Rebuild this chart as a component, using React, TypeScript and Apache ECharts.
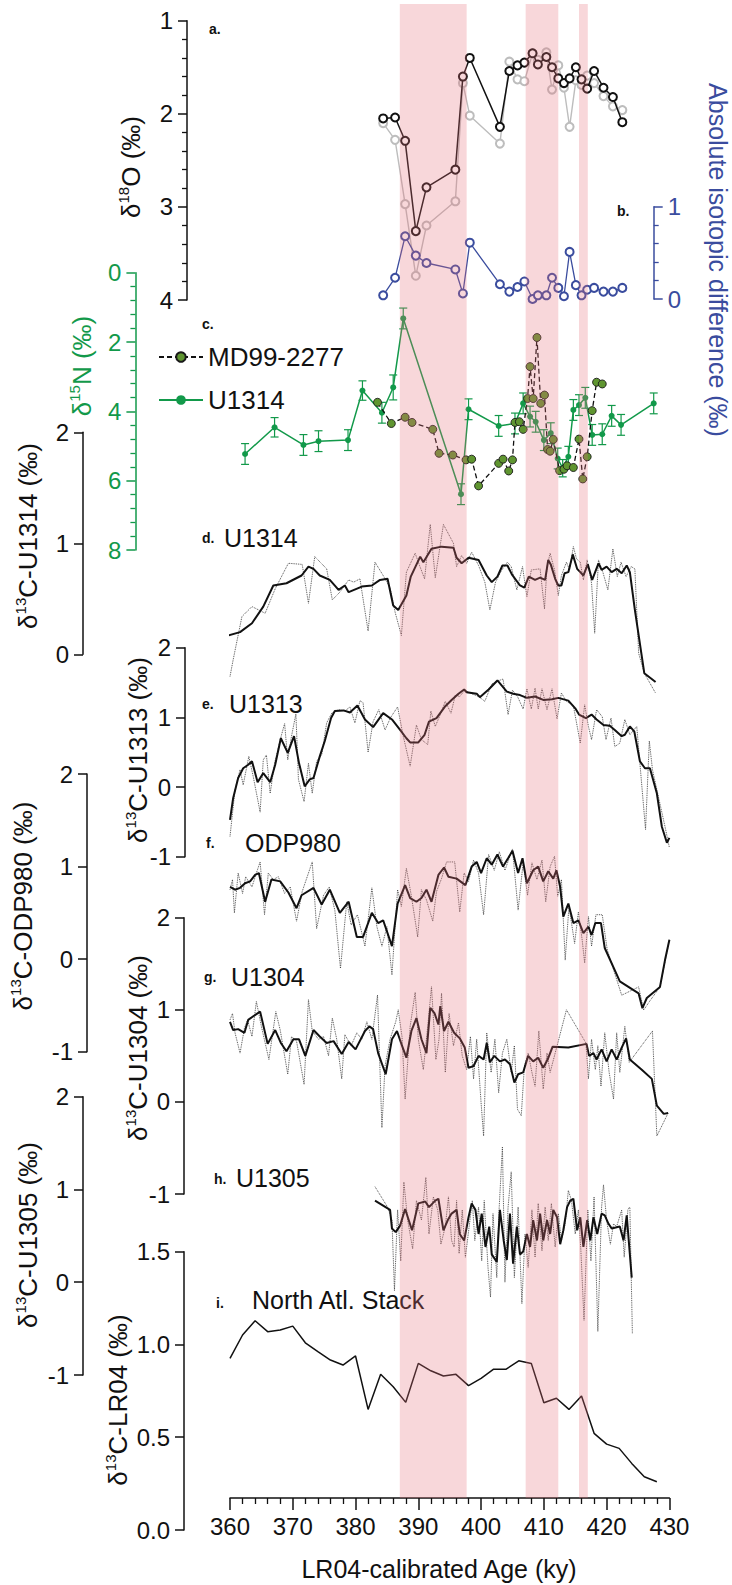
import React, { useEffect, useRef } from "react";
import * as echarts from "echarts";

const FONT = "'Liberation Sans', Arial, Helvetica, sans-serif";
const INK = "#111111";
const GREEN = "#12994a";
const BLUE = "#3a4c9e";
const OLIVE = "#5f9530";
const BAND_FILL = "rgba(230,112,123,0.28)";

// ---------- data ----------
const AGE_MIN = 360;
const AGE_MAX = 430;
const AGE_STEP = 10;

// event bands (ky)
const bands = [
  [387.05, 397.7],
  [407.1, 412.3],
  [415.6, 417.0],
];

// a. delta18O
const d18oAge = [384.4, 386.3, 387.9, 389.6, 391.3, 395.9, 397.1, 398.2, 403.0, 404.5, 405.8, 406.9, 408.2, 409.05, 410.4, 411.3, 412.3, 413.2, 414.1, 415.1, 416.0, 416.9, 418.0, 419.5, 421.0, 422.5];
const d18oBlack = [2.05, 2.04, 2.29, 3.26, 2.79, 2.6, 1.6, 1.4, 2.14, 1.54, 1.48, 1.45, 1.35, 1.47, 1.39, 1.5, 1.62, 1.67, 1.62, 1.5, 1.63, 1.73, 1.54, 1.72, 1.82, 2.09];
const d18oGrey = [2.1, 2.28, 2.97, 3.74, 3.2, 2.94, 1.67, 2.02, 2.32, 1.44, 1.63, 1.65, 1.35, 1.42, 1.34, 1.74, 1.48, 1.72, 2.14, 1.64, 1.69, 1.59, 1.67, 1.81, 1.92, 1.96];
// b. absolute isotopic difference
const absDiff = [0.04, 0.23, 0.68, 0.47, 0.39, 0.32, 0.06, 0.61, 0.16, 0.08, 0.13, 0.19, 0.0, 0.04, 0.04, 0.23, 0.12, 0.03, 0.51, 0.15, 0.04, 0.1, 0.12, 0.08, 0.08, 0.12];

// c. delta15N
const md99Age = [383.5, 385.7, 387.9, 389.0, 392.3, 393.3, 395.5, 397.6, 398.5, 399.6, 402.8, 403.5, 404.4, 405.0, 405.4, 406.1, 406.7, 407.4, 407.8, 408.3, 408.9, 409.5, 410.1, 410.6, 411.0, 411.5, 412.5, 413.2, 413.7, 414.7, 415.6, 416.2, 416.9, 417.7, 418.4, 419.3];
const md99N = [3.74, 4.35, 4.17, 4.32, 4.52, 5.21, 5.26, 5.4, 5.38, 6.15, 5.5, 5.38, 5.72, 5.4, 4.32, 4.3, 4.52, 3.63, 2.71, 3.63, 1.87, 3.77, 3.53, 5.1, 5.15, 4.81, 5.71, 5.67, 5.57, 5.62, 4.8, 5.95, 5.31, 3.98, 3.16, 3.21];
const u1314NAge = [362.4, 367.1, 371.7, 374.1, 378.8, 381.1, 384.2, 386.0, 387.6, 396.8, 398.0, 402.8, 405.4, 406.7, 407.8, 408.7, 410.0, 411.1, 412.2, 413.0, 413.9, 414.7, 415.6, 416.6, 417.7, 419.3, 420.8, 422.3, 427.5];
const u1314N = [5.23, 4.46, 4.97, 4.86, 4.83, 3.4, 4.04, 3.31, 1.32, 6.39, 3.94, 4.42, 4.35, 3.77, 4.15, 4.3, 4.83, 4.63, 5.36, 5.64, 5.31, 3.96, 3.82, 3.61, 4.68, 4.66, 4.13, 4.39, 3.77];
const u1314NErr = [0.3, 0.28, 0.3, 0.3, 0.3, 0.28, 0.3, 0.36, 0.3, 0.3, 0.3, 0.3, 0.3, 0.3, 0.3, 0.3, 0.3, 0.3, 0.3, 0.25, 0.3, 0.3, 0.3, 0.3, 0.3, 0.3, 0.3, 0.3, 0.3];

// d. U1314 delta13C  [age, value]
const u1314Raw = [[360.0, -0.2], [360.5, -0.05], [361.9, 0.34], [363.5, 0.43], [365.6, 0.37], [367.2, 0.59], [369.3, 0.82], [371.5, 0.81], [372.5, 0.46], [373.5, 0.88], [375.4, 0.77], [376.3, 0.49], [377.5, 0.56], [378.9, 0.67], [379.7, 0.65], [380.7, 0.68], [382.0, 0.21], [383.1, 0.83], [384.4, 0.71], [385.5, 0.6], [386.3, 0.38], [387.3, 0.17], [388.1, 0.74], [389.5, 0.91], [390.2, 0.8], [391.0, 0.68], [391.9, 1.17], [392.7, 0.69], [394.0, 1.17], [395.6, 1.0], [396.1, 0.79], [396.9, 0.89], [397.7, 0.82], [398.5, 0.92], [399.6, 0.8], [400.6, 0.65], [401.4, 0.4], [402.3, 0.65], [403.3, 0.76], [404.2, 0.83], [404.8, 0.79], [405.7, 0.58], [406.6, 0.79], [407.3, 0.52], [408.0, 0.76], [409.4, 0.77], [410.1, 0.41], [410.5, 0.79], [411.0, 0.91], [411.7, 0.76], [412.3, 0.53], [412.8, 0.71], [413.6, 0.83], [414.1, 0.76], [414.7, 0.97], [415.2, 0.86], [415.8, 0.83], [416.3, 0.67], [416.9, 0.85], [417.6, 0.64], [418.1, 0.19], [418.7, 0.85], [419.4, 0.74], [420.2, 0.58], [421.0, 0.95], [421.7, 0.7], [422.3, 0.83], [423.1, 0.7], [423.9, 0.79], [424.5, 0.77], [425.1, 0.01], [426.0, -0.17], [427.8, -0.35]];
const u1314Smooth = [[359.7, 0.17], [361.6, 0.2], [363.5, 0.28], [365.3, 0.43], [366.9, 0.62], [369.0, 0.64], [371.4, 0.71], [372.5, 0.79], [373.3, 0.77], [374.3, 0.71], [375.9, 0.67], [377.3, 0.58], [378.3, 0.62], [378.9, 0.56], [381.0, 0.61], [382.6, 0.62], [383.9, 0.67], [385.1, 0.68], [386.0, 0.44], [386.8, 0.4], [388.1, 0.53], [388.8, 0.7], [390.3, 0.88], [390.8, 0.83], [392.1, 0.95], [393.7, 0.97], [395.6, 0.96], [396.1, 0.87], [396.9, 0.82], [398.0, 0.87], [399.6, 0.85], [400.9, 0.71], [401.7, 0.65], [402.6, 0.7], [403.4, 0.8], [404.2, 0.8], [404.9, 0.72], [406.2, 0.62], [406.9, 0.6], [407.6, 0.7], [408.6, 0.67], [409.4, 0.69], [410.2, 0.67], [410.7, 0.85], [411.1, 0.81], [411.8, 0.68], [412.3, 0.62], [412.8, 0.62], [413.3, 0.73], [413.9, 0.74], [414.6, 0.9], [415.3, 0.77], [415.8, 0.74], [416.3, 0.71], [417.0, 0.81], [417.7, 0.67], [418.7, 0.82], [419.2, 0.76], [420.0, 0.79], [420.8, 0.74], [421.6, 0.77], [422.4, 0.73], [423.2, 0.8], [423.7, 0.74], [424.5, 0.4], [426.0, -0.17], [427.8, -0.25]];

// e. U1313 delta13C
const u1313Raw = [[360.0, -0.71], [360.8, -0.04], [361.6, 0.25], [362.1, 0.03], [363.0, 0.44], [363.7, 0.15], [364.8, -0.36], [365.3, 0.39], [365.8, 0.46], [366.4, -0.09], [367.1, 0.34], [368.0, 0.68], [368.7, 0.91], [369.2, 0.39], [369.8, 0.73], [370.5, 1.05], [370.9, 0.11], [371.8, -0.21], [372.5, 0.34], [373.1, -0.09], [373.8, 0.37], [374.6, 0.46], [375.4, 0.92], [376.2, 1.06], [377.3, 1.11], [378.3, 1.09], [379.1, 1.15], [379.9, 0.92], [380.7, 1.24], [381.2, 1.21], [382.0, 0.5], [382.8, 0.94], [383.7, 1.11], [384.7, 0.82], [385.6, 1.0], [386.7, 1.15], [387.6, 0.73], [388.7, 0.3], [389.7, 0.89], [390.5, 0.68], [391.5, 0.61], [392.0, 1.09], [392.7, 0.87], [393.5, 1.04], [394.3, 1.23], [395.2, 1.06], [395.9, 1.32], [396.6, 1.3], [397.4, 1.39], [398.5, 1.34], [399.6, 1.3], [400.6, 1.23], [401.7, 1.48], [402.6, 1.52], [403.5, 1.55], [404.3, 1.04], [405.0, 1.39], [405.8, 1.3], [406.7, 1.12], [407.3, 1.41], [408.0, 1.12], [408.6, 1.42], [409.1, 1.12], [409.7, 1.41], [410.5, 1.11], [411.3, 1.41], [412.1, 0.98], [412.8, 1.35], [413.6, 1.23], [414.7, 1.17], [415.8, 0.63], [416.5, 1.18], [417.1, 0.87], [417.6, 0.68], [418.4, 1.11], [419.3, 1.01], [419.9, 0.68], [420.7, 0.99], [421.3, 0.58], [422.1, 0.63], [422.9, 0.97], [423.7, 0.75], [424.8, 0.87], [425.5, 0.13], [426.2, -0.61], [426.8, 0.66], [427.3, 0.25], [428.3, -0.16], [429.4, -0.61], [430.0, -0.87]];
const u1313Smooth = [[360.0, -0.47], [360.5, -0.16], [361.3, 0.13], [362.1, 0.27], [362.9, 0.32], [363.5, 0.37], [364.4, 0.07], [365.3, 0.2], [366.4, 0.07], [367.2, 0.32], [368.1, 0.7], [369.2, 0.49], [370.2, 0.73], [371.0, 0.34], [371.9, 0.01], [372.7, 0.11], [373.3, 0.13], [374.3, 0.44], [375.1, 0.66], [376.1, 0.99], [376.7, 1.09], [378.1, 1.1], [379.1, 1.07], [380.3, 1.17], [381.5, 0.97], [382.8, 0.86], [384.4, 1.06], [385.8, 0.97], [387.1, 0.82], [388.1, 0.7], [388.7, 0.64], [390.0, 0.64], [391.0, 0.75], [391.7, 0.94], [392.9, 0.99], [394.3, 1.16], [395.3, 1.25], [396.4, 1.34], [397.3, 1.4], [397.7, 1.36], [399.3, 1.34], [399.8, 1.29], [401.2, 1.4], [402.6, 1.53], [404.1, 1.37], [405.1, 1.34], [406.2, 1.32], [407.3, 1.28], [408.6, 1.3], [409.9, 1.25], [411.3, 1.26], [412.3, 1.28], [413.9, 1.24], [415.0, 1.13], [415.6, 1.04], [416.7, 0.99], [417.6, 1.04], [418.4, 0.97], [419.5, 0.89], [420.5, 0.88], [421.3, 0.82], [422.4, 0.73], [422.9, 0.75], [423.7, 0.87], [424.4, 0.8], [425.3, 0.37], [426.1, 0.27], [426.9, 0.27], [428.0, -0.09], [428.8, -0.57], [429.6, -0.8], [430.0, -0.73]];

// f. ODP980 delta13C
const odp980Raw = [[360.0, 0.75], [360.4, 0.86], [360.7, 0.5], [361.3, 0.93], [362.0, 0.71], [362.5, 0.89], [363.5, 0.78], [364.2, 0.93], [364.8, 1.05], [365.5, 0.48], [366.1, 0.93], [366.9, 0.86], [367.7, 0.89], [368.7, 0.71], [369.6, 0.78], [370.6, 0.41], [371.5, 0.73], [373.1, 1.05], [373.8, 0.33], [374.9, 0.69], [375.8, 0.78], [376.7, 0.53], [377.6, -0.1], [378.6, 0.62], [379.3, 0.37], [380.3, 0.48], [381.5, 0.14], [382.6, 0.77], [383.4, 0.35], [384.2, 0.14], [385.0, 0.35], [385.8, -0.17], [386.3, 0.35], [386.7, 0.75], [387.3, 0.57], [388.1, 0.98], [388.9, 0.68], [389.9, 0.24], [390.5, 0.75], [391.3, 0.64], [392.3, 0.41], [392.9, 0.73], [393.7, 0.87], [394.5, 1.05], [395.8, 1.05], [396.6, 0.51], [397.3, 0.93], [398.0, 0.84], [398.8, 1.07], [399.6, 0.93], [400.4, 0.48], [401.2, 1.13], [402.1, 0.96], [402.9, 1.16], [403.8, 0.96], [405.0, 1.19], [405.9, 0.53], [406.7, 1.04], [407.4, 0.69], [408.1, 1.04], [408.9, 0.86], [409.7, 1.07], [410.3, 0.62], [411.0, 1.0], [411.7, 1.11], [412.2, 0.68], [412.8, 0.86], [413.4, -0.01], [414.0, 0.57], [414.9, 0.17], [415.5, 0.51], [416.1, 0.21], [416.5, -0.04], [417.1, 0.46], [417.6, 0.14], [418.3, 0.48], [419.3, 0.48], [420.1, 0.1], [422.4, -0.39], [425.1, -0.3], [425.9, -0.55], [426.8, -0.46], [428.5, -0.3], [430.0, 0.21]];
const odp980Smooth = [[360.0, 0.78], [360.8, 0.75], [361.6, 0.77], [362.4, 0.82], [363.2, 0.84], [364.0, 0.91], [364.6, 0.93], [365.6, 0.62], [366.6, 0.86], [368.0, 0.84], [369.3, 0.72], [370.6, 0.55], [371.4, 0.69], [373.3, 0.77], [374.6, 0.59], [375.9, 0.75], [377.5, 0.5], [378.9, 0.62], [380.2, 0.24], [381.2, 0.24], [382.6, 0.5], [383.6, 0.39], [384.4, 0.42], [385.8, 0.14], [386.7, 0.6], [387.9, 0.8], [388.7, 0.66], [389.7, 0.62], [390.5, 0.66], [391.3, 0.75], [392.1, 0.62], [393.2, 0.91], [394.1, 0.99], [394.8, 0.89], [396.1, 0.87], [397.5, 0.8], [398.5, 1.0], [399.3, 1.05], [400.0, 0.93], [400.9, 1.09], [401.7, 1.02], [402.6, 1.13], [403.5, 1.0], [404.3, 1.09], [405.0, 1.17], [405.9, 0.93], [406.6, 1.09], [407.3, 0.82], [408.3, 0.96], [409.1, 1.0], [409.9, 0.84], [410.7, 0.95], [411.5, 0.87], [412.0, 0.96], [412.6, 0.78], [413.1, 0.46], [413.9, 0.6], [414.7, 0.39], [415.5, 0.42], [416.3, 0.28], [417.1, 0.35], [417.6, 0.26], [418.2, 0.39], [419.1, 0.39], [419.7, 0.12], [422.1, -0.24], [425.1, -0.37], [425.7, -0.53], [426.4, -0.42], [428.5, -0.3], [429.3, -0.01], [430.0, 0.21]];

// g. U1304 delta13C
const u1304Raw = [[360.0, 0.89], [360.4, 0.96], [360.8, 0.75], [361.6, 0.53], [362.3, 0.8], [362.8, 0.89], [363.5, 0.71], [364.2, 1.09], [365.0, 0.82], [366.2, 0.46], [367.3, 0.98], [368.0, 0.78], [369.2, 0.3], [369.8, 0.71], [370.6, 0.66], [371.8, 0.19], [372.5, 1.11], [373.1, 0.77], [374.1, 0.68], [374.9, 0.71], [375.7, 0.5], [376.3, 0.91], [377.0, 0.68], [377.8, 0.25], [378.3, 0.73], [379.3, 0.61], [380.2, 0.75], [381.0, 0.68], [381.8, 0.87], [382.6, 0.68], [383.5, 1.16], [384.2, -0.28], [384.7, 0.39], [385.5, 0.68], [386.4, 0.87], [386.8, 1.0], [387.4, 0.71], [387.9, 0.03], [388.7, 0.82], [389.5, 1.19], [390.0, 0.68], [390.8, 0.35], [391.6, 0.89], [392.1, 1.25], [392.8, 0.46], [393.3, 0.68], [393.7, 1.18], [394.3, 0.32], [394.9, 0.96], [395.6, 0.61], [396.4, 0.86], [397.0, 0.5], [397.7, 0.35], [398.3, 0.71], [398.8, 0.25], [399.3, 0.68], [400.0, -0.01], [400.4, -0.37], [400.9, 0.75], [401.6, 0.32], [402.2, 0.68], [402.8, 0.1], [403.4, 0.53], [404.1, 0.68], [404.8, 0.32], [405.3, 0.61], [405.8, -0.08], [406.4, -0.15], [406.9, 0.39], [407.5, 0.53], [408.1, 0.32], [408.6, 0.17], [409.2, 0.77], [409.9, 0.14], [410.5, 0.53], [411.0, 0.32], [413.6, 1.0], [416.7, 0.64], [417.1, 0.25], [417.6, 0.68], [418.2, 0.35], [418.6, 0.61], [419.1, 0.17], [419.7, 0.75], [420.4, 0.32], [421.1, 0.03], [421.6, 0.75], [422.1, 0.32], [422.9, 0.82], [423.6, 0.43], [427.3, 0.77], [428.0, -0.37], [428.8, -0.26], [429.8, -0.12]];
const u1304Smooth = [[360.0, 0.87], [360.5, 0.78], [361.3, 0.79], [362.3, 0.75], [362.9, 0.89], [363.7, 0.93], [364.8, 0.98], [366.0, 0.63], [367.2, 0.78], [368.1, 0.64], [369.0, 0.55], [370.1, 0.68], [371.0, 0.68], [372.0, 0.5], [373.3, 0.78], [374.3, 0.71], [375.4, 0.64], [376.5, 0.66], [377.8, 0.52], [378.9, 0.65], [380.0, 0.57], [381.5, 0.77], [382.2, 0.82], [382.8, 0.79], [383.6, 0.53], [384.8, 0.3], [385.8, 0.68], [386.6, 0.77], [387.4, 0.61], [388.1, 0.48], [388.9, 0.77], [389.7, 0.91], [390.5, 0.68], [391.3, 0.53], [391.9, 1.02], [392.6, 0.96], [393.2, 0.84], [393.5, 1.04], [394.1, 0.77], [394.8, 0.87], [395.7, 0.75], [396.6, 0.69], [397.4, 0.59], [398.0, 0.37], [398.8, 0.39], [399.6, 0.5], [400.4, 0.46], [400.9, 0.64], [401.4, 0.43], [402.1, 0.5], [403.0, 0.44], [403.8, 0.46], [404.6, 0.41], [405.3, 0.21], [405.9, 0.3], [406.7, 0.32], [407.5, 0.5], [408.3, 0.44], [409.1, 0.48], [409.9, 0.37], [410.6, 0.46], [411.4, 0.6], [413.9, 0.59], [416.8, 0.63], [417.2, 0.5], [417.9, 0.53], [418.4, 0.46], [419.2, 0.57], [420.0, 0.44], [420.8, 0.57], [421.6, 0.46], [422.4, 0.59], [423.1, 0.69], [423.7, 0.46], [425.6, 0.35], [427.2, 0.25], [428.0, -0.04], [429.1, -0.13], [429.8, -0.12]];

// h. U1305 delta13C
const u1305Raw = [[383.1, 1.03], [385.1, 0.81], [385.8, 0.67], [386.2, -0.09], [386.7, 0.78], [387.2, 0.23], [387.7, 1.08], [388.3, 0.67], [389.1, 0.36], [389.7, 0.88], [390.5, 0.67], [391.2, 1.13], [391.7, 0.52], [392.4, 0.92], [393.1, 0.78], [393.6, 0.41], [394.3, 0.6], [394.8, 0.92], [395.3, 0.45], [395.7, 0.38], [396.1, 0.88], [396.5, 0.31], [397.0, 0.78], [397.5, 0.27], [398.1, 0.6], [398.6, 0.88], [399.0, 0.45], [399.6, 0.81], [400.1, 0.23], [400.5, 0.88], [401.1, 0.16], [401.5, -0.16], [401.9, 0.74], [402.5, 0.05], [402.8, 0.7], [403.4, 1.46], [403.8, 0.0], [404.3, 0.81], [404.8, 1.19], [405.3, 0.05], [405.9, 0.81], [406.5, -0.23], [407.0, 0.52], [407.5, 0.16], [408.1, 0.78], [408.6, 0.27], [409.1, 0.85], [409.7, 0.34], [410.2, 0.81], [410.7, 0.45], [411.2, 0.85], [411.8, 0.38], [412.3, 0.74], [412.8, 0.45], [413.4, 0.63], [413.9, 0.99], [414.4, 0.88], [415.0, 0.52], [415.5, 0.78], [415.9, 0.34], [416.4, -0.41], [417.0, 0.78], [417.5, 0.23], [418.0, 0.92], [418.6, -0.53], [419.2, 0.81], [419.5, 1.05], [420.0, 0.67], [420.6, 0.41], [421.1, 0.63], [421.6, 0.6], [422.4, 0.78], [422.8, 0.27], [423.4, 0.79], [423.7, 0.81], [424.1, -0.55]];
const u1305Smooth = [[383.1, 0.88], [385.5, 0.78], [385.8, 0.58], [386.4, 0.54], [387.1, 0.61], [387.9, 0.79], [389.0, 0.56], [390.0, 0.85], [391.1, 0.87], [391.7, 0.81], [392.7, 0.88], [393.2, 0.9], [394.0, 0.56], [394.7, 0.67], [395.3, 0.74], [396.1, 0.78], [396.6, 0.52], [397.3, 0.45], [398.0, 0.7], [398.5, 0.85], [399.1, 0.78], [399.6, 0.52], [400.1, 0.74], [400.7, 0.38], [401.3, 0.6], [401.7, 0.3], [402.5, 0.22], [403.0, 0.78], [403.6, 0.45], [404.1, 0.24], [404.6, 0.74], [405.1, 0.2], [405.7, 0.6], [406.2, 0.3], [406.7, 0.33], [407.3, 0.52], [407.8, 0.38], [408.3, 0.67], [408.9, 0.45], [409.4, 0.74], [409.9, 0.45], [410.5, 0.67], [411.0, 0.52], [411.5, 0.78], [412.1, 0.7], [412.6, 0.41], [413.1, 0.56], [413.7, 0.81], [414.2, 0.88], [414.7, 0.9], [415.3, 0.56], [415.8, 0.7], [416.3, 0.38], [416.9, 0.67], [417.4, 0.45], [417.9, 0.7], [418.5, 0.52], [419.2, 0.74], [419.7, 0.72], [420.3, 0.63], [420.8, 0.58], [422.1, 0.6], [422.7, 0.45], [423.2, 0.72], [424.0, 0.05]];

// i. North Atlantic LR04 stack
const lr04Age = [360, 362, 364, 366, 368, 370, 372, 374, 376, 378, 380, 382, 384, 386, 388, 390, 392, 394, 396, 398, 400, 402, 404, 406, 408, 410, 412, 414, 416, 418, 420, 422, 424, 426, 428];
const lr04Val = [0.925, 1.051, 1.128, 1.069, 1.078, 1.099, 1.009, 0.961, 0.916, 0.889, 0.938, 0.65, 0.839, 0.772, 0.688, 0.898, 0.858, 0.83, 0.839, 0.778, 0.817, 0.867, 0.867, 0.912, 0.898, 0.686, 0.71, 0.65, 0.722, 0.521, 0.463, 0.44, 0.359, 0.287, 0.26];

// ---------- layout ----------
const W = 732;
const H = 1585;
const GRID_LEFT = 230;
const GRID_RIGHT = 62.6;

type Panel = {
  top: number; height: number; axisX: number; min: number; max: number; interval: number;
  inverse?: boolean; color?: string; minor?: number; right?: boolean; fmt?: (v: number) => string;
};

const panels: Panel[] = [
  { top: 4, height: 1494, axisX: GRID_LEFT, min: 0, max: 1, interval: 1 },
  { top: 20.7, height: 279.3, axisX: 187, min: 1, max: 4, interval: 1, inverse: true, minor: 5 },
  { top: 206.7, height: 92.3, axisX: 653.7, min: 0, max: 1, interval: 1, color: BLUE, minor: 5, right: true },
  { top: 272.7, height: 277.3, axisX: 135.4, min: 0, max: 8, interval: 2, inverse: true, color: GREEN, minor: 5 },
  { top: 432.3, height: 222, axisX: 83, min: 0, max: 2, interval: 1 },
  { top: 647.7, height: 209, axisX: 185, min: -1, max: 2, interval: 1 },
  { top: 774, height: 277.7, axisX: 87, min: -1, max: 2, interval: 1 },
  { top: 917.7, height: 276.3, axisX: 184, min: -1, max: 2, interval: 1 },
  { top: 1096.7, height: 278.3, axisX: 83, min: -1, max: 2, interval: 1 },
  { top: 1251.7, height: 278.3, axisX: 184, min: 0, max: 1.5, interval: 0.5, fmt: (v: number) => v.toFixed(1) },
];

const zip = (a: number[], b: number[]) => a.map((x, i) => [x, b[i]]);

function richTitle(pre: string, sup: string, post: string, color: string) {
  return {
    text: `{m|${pre}}{s|${sup}}{m|${post}}`,
    rich: {
      m: { fontSize: 26, fontFamily: FONT, fill: color, color, lineHeight: 30 },
      s: { fontSize: 15, fontFamily: FONT, fill: color, color, lineHeight: 20, verticalAlign: "top" },
    },
  };
}

function title(x: number, y: number, rot: number, content: any) {
  return {
    type: "text", x, y, rotation: rot, z: 5,
    style: { ...content, align: "center", verticalAlign: "middle", textAlign: "center", textVerticalAlign: "middle" },
  };
}

function label(x: number, y: number, text: string, size: number, bold: boolean) {
  return {
    type: "text", x, y, z: 5,
    style: {
      text, fill: INK, fontSize: size, fontFamily: FONT, fontWeight: bold ? "bold" : "normal",
      align: "left", verticalAlign: "middle", textAlign: "left", textVerticalAlign: "middle",
    },
  };
}

function buildOption(): any {
  const grid = panels.map((p) => ({ left: GRID_LEFT, right: GRID_RIGHT, top: p.top, height: p.height }));
  const xAxis = panels.map((p, i) =>
    i === 0
      ? {
          gridIndex: 0, type: "value", min: AGE_MIN, max: AGE_MAX, interval: AGE_STEP, position: "bottom",
          axisLine: { show: true, onZero: false, lineStyle: { color: INK, width: 1.5 } },
          axisTick: { show: true, length: 12, lineStyle: { color: INK, width: 1.5 } },
          minorTick: { show: true, splitNumber: 5, length: 6, lineStyle: { color: INK, width: 1.3 } },
          splitLine: { show: false },
          axisLabel: { color: INK, fontSize: 24, fontFamily: FONT, margin: 16 },
        }
      : { gridIndex: i, type: "value", min: AGE_MIN, max: AGE_MAX, show: false }
  );
  const yAxis = panels.map((p, i) => {
    if (i === 0) return { gridIndex: 0, type: "value", min: 0, max: 1, show: false };
    const c = p.color || INK;
    return {
      gridIndex: i, type: "value", min: p.min, max: p.max, interval: p.interval, inverse: !!p.inverse,
      position: p.right ? "right" : "left",
      offset: p.right ? p.axisX - (W - GRID_RIGHT) : GRID_LEFT - p.axisX,
      axisLine: { show: true, onZero: false, lineStyle: { color: c, width: 1.5 } },
      axisTick: { show: true, length: 9, lineStyle: { color: c, width: 1.5 } },
      minorTick: { show: !!p.minor, splitNumber: p.minor || 5, length: 5, lineStyle: { color: c, width: 1.3 } },
      splitLine: { show: false },
      minorSplitLine: { show: false },
      axisLabel: { color: c, fontSize: 24, fontFamily: FONT, margin: 14, formatter: p.fmt },
    };
  });

  const raw = (name: string, gi: number, data: number[][]) => ({
    type: "line", name, xAxisIndex: gi, yAxisIndex: gi, data, clip: false, symbol: "none", silent: true, z: 2,
    lineStyle: { color: "#3a3a3a", width: 0.9, type: "dotted" },
  });
  const smooth = (name: string, gi: number, data: number[][], w = 2) => ({
    type: "line", name, xAxisIndex: gi, yAxisIndex: gi, data, clip: false, symbol: "none", silent: true, z: 3,
    lineStyle: { color: INK, width: w },
  });

  const series: any[] = [
    {
      type: "line", name: "d18O grey", xAxisIndex: 1, yAxisIndex: 1, data: zip(d18oAge, d18oGrey), clip: false, z: 2,
      symbol: "emptyCircle", symbolSize: 8, lineStyle: { color: "#bdbdbd", width: 1.4 },
      itemStyle: { color: "#bdbdbd", borderColor: "#bdbdbd", borderWidth: 1.3 },
    },
    {
      type: "line", name: "d18O black", xAxisIndex: 1, yAxisIndex: 1, data: zip(d18oAge, d18oBlack), clip: false, z: 3,
      symbol: "emptyCircle", symbolSize: 8, lineStyle: { color: INK, width: 1.5 },
      itemStyle: { color: INK, borderColor: INK, borderWidth: 1.3 },
    },
    {
      type: "line", name: "abs diff", xAxisIndex: 2, yAxisIndex: 2, data: zip(d18oAge, absDiff), clip: false, z: 3,
      symbol: "emptyCircle", symbolSize: 8, lineStyle: { color: BLUE, width: 1.3 },
      itemStyle: { color: BLUE, borderColor: BLUE, borderWidth: 1.1 },
    },
    {
      type: "custom", name: "U1314 err", xAxisIndex: 3, yAxisIndex: 3, silent: true, clip: false, z: 2,
      data: u1314NAge.map((a, i) => [a, u1314N[i], u1314NErr[i]]),
      encode: { x: 0, y: 1 },
      renderItem: (_p: any, api: any) => {
        const x = api.value(0), y = api.value(1), e = api.value(2);
        const hi = api.coord([x, y - e]);
        const lo = api.coord([x, y + e]);
        const w = 4;
        const st = { stroke: GREEN, lineWidth: 1.2 };
        return {
          type: "group",
          children: [
            { type: "line", shape: { x1: hi[0], y1: hi[1], x2: lo[0], y2: lo[1] }, style: st },
            { type: "line", shape: { x1: hi[0] - w, y1: hi[1], x2: hi[0] + w, y2: hi[1] }, style: st },
            { type: "line", shape: { x1: lo[0] - w, y1: lo[1], x2: lo[0] + w, y2: lo[1] }, style: st },
          ],
        };
      },
    },
    {
      type: "line", name: "U1314", xAxisIndex: 3, yAxisIndex: 3, data: zip(u1314NAge, u1314N), clip: false, z: 3,
      symbol: "circle", symbolSize: 6, lineStyle: { color: GREEN, width: 1.5 },
      itemStyle: { color: GREEN, borderColor: GREEN, borderWidth: 0 },
    },
    {
      type: "line", name: "MD99-2277", xAxisIndex: 3, yAxisIndex: 3, data: zip(md99Age, md99N), clip: false, z: 4,
      symbol: "circle", symbolSize: 8, lineStyle: { color: INK, width: 1.3, type: [5, 3] },
      itemStyle: { color: OLIVE, borderColor: "#1a1a1a", borderWidth: 0.9 },
    },
    raw("U1314 d13C raw", 4, u1314Raw),
    smooth("U1314 d13C smooth", 4, u1314Smooth),
    raw("U1313 raw", 5, u1313Raw),
    smooth("U1313 smooth", 5, u1313Smooth),
    raw("ODP980 raw", 6, odp980Raw),
    smooth("ODP980 smooth", 6, odp980Smooth),
    raw("U1304 raw", 7, u1304Raw),
    smooth("U1304 smooth", 7, u1304Smooth),
    raw("U1305 raw", 8, u1305Raw),
    smooth("U1305 smooth", 8, u1305Smooth),
    smooth("North Atl. Stack", 9, zip(lr04Age, lr04Val), 1.5),
    {
      type: "custom", name: "bands", xAxisIndex: 0, yAxisIndex: 0, silent: true, clip: false, z: 20,
      data: bands, encode: { x: [0, 1] },
      renderItem: (_p: any, api: any) => {
        const p0 = api.coord([api.value(0), 1]);
        const p1 = api.coord([api.value(1), 0]);
        return {
          type: "rect",
          shape: { x: p0[0], y: p0[1], width: p1[0] - p0[0], height: p1[1] - p0[1] },
          style: { fill: BAND_FILL },
        };
      },
    },
  ];

  const graphic: any[] = [
    title(131, 167, Math.PI / 2, richTitle("δ", "18", "O (‰)", INK)),
    title(718, 260, -Math.PI / 2, { text: "Absolute isotopic difference (‰)", fill: BLUE, fontSize: 25, fontFamily: FONT }),
    title(82, 366, Math.PI / 2, richTitle("δ", "15", "N (‰)", GREEN)),
    title(28, 536, Math.PI / 2, richTitle("δ", "13", "C-U1314 (‰)", INK)),
    title(138, 750, Math.PI / 2, richTitle("δ", "13", "C-U1313 (‰)", INK)),
    title(23, 906, Math.PI / 2, richTitle("δ", "13", "C-ODP980 (‰)", INK)),
    title(138, 1048, Math.PI / 2, richTitle("δ", "13", "C-U1304 (‰)", INK)),
    title(28, 1235, Math.PI / 2, richTitle("δ", "13", "C-U1305 (‰)", INK)),
    title(118, 1400, Math.PI / 2, richTitle("δ", "13", "C-LR04 (‰)", INK)),
    title(439, 1569, 0, { text: "LR04-calibrated Age (ky)", fill: INK, fontSize: 25, fontFamily: FONT }),
    label(209, 29, "a.", 14, true),
    label(617, 211, "b.", 14, true),
    label(202, 324, "c.", 14, true),
    label(202, 538, "d.", 14, true),
    label(224, 538, "U1314", 25, false),
    label(202, 704, "e.", 14, true),
    label(229, 704, "U1313", 25, false),
    label(206, 843, "f.", 14, true),
    label(245, 843, "ODP980", 25, false),
    label(204, 977, "g.", 14, true),
    label(231, 977, "U1304", 25, false),
    label(214, 1179, "h.", 14, true),
    label(236, 1178, "U1305", 25, false),
    label(216, 1303, "i.", 14, true),
    label(252, 1300, "North Atl. Stack", 25, false),
  ];

  return {
    animation: false,
    backgroundColor: "#ffffff",
    textStyle: { fontFamily: FONT },
    grid,
    xAxis,
    yAxis,
    series,
    graphic,
    legend: {
      data: ["MD99-2277", "U1314"],
      orient: "vertical",
      left: 153,
      top: 339,
      itemWidth: 44,
      itemHeight: 12,
      itemGap: 17,
      selectedMode: false,
      textStyle: { fontSize: 26, fontFamily: FONT, color: INK },
    },
  };
}

export default function App() {
  const ref = useRef<HTMLDivElement>(null);
  useEffect(() => {
    if (!ref.current) return;
    const chart = echarts.init(ref.current, undefined, { renderer: "svg" });
    chart.setOption(buildOption());
    return () => chart.dispose();
  }, []);
  return <div ref={ref} style={{ position: "absolute", left: 0, top: 0, width: W, height: H, background: "#fff" }} />;
}
